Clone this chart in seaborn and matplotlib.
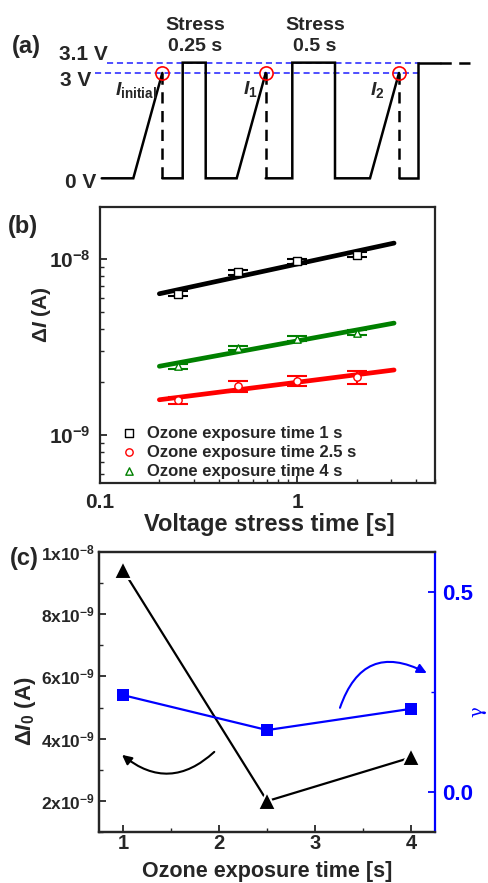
import numpy as np
import matplotlib
matplotlib.use("Agg")
import matplotlib.pyplot as plt
import seaborn as sns
import pandas as pd
from matplotlib.ticker import FixedLocator, FixedFormatter, MultipleLocator, LogLocator, NullFormatter

# ---------------- data ----------------
# panel (a): schematic waveform (schematic time axis, voltage levels)
wave_solid_t = [[101.7, 133.3, 162.3],
                [162.3, 182.7, 182.7, 205.7, 205.7, 236.7, 265.7],
                [265.7, 292.3, 292.3, 335.0, 335.0, 370.0, 399.0],
                [399.0, 418.3, 418.3, 440.0]]
wave_solid_v = [[0, 0, 3.0],
                [0, 0, 3.1, 3.1, 0, 0, 3.0],
                [0, 0, 3.1, 3.1, 0, 0, 3.0],
                [0, 0, 3.1, 3.1]]
read_t = [162.3, 265.7, 399.0]
read_v = 3.0
stress_v = 3.1
tail_t = [440.0, 470.0]
ref3_t = [95.0, 420.0]
ref31_t = [107.0, 420.0]
read_labels = [r"$\mathit{I}_{\mathrm{initial}}$", r"$\mathit{I}_{\mathrm{1}}$", r"$\mathit{I}_{\mathrm{2}}$"]
stress_labels = ["Stress\n0.25 s", "Stress\n0.5 s"]

# panel (b)
stress_time = [0.25, 0.5, 1, 2]
dI_1s = [6.33e-9, 8.4e-9, 9.66e-9, 1.057e-8]
dI_1s_err = [0.20e-9, 0.27e-9, 0.33e-9, 0.35e-9]
dI_2p5s = [1.57e-9, 1.88e-9, 2.02e-9, 2.13e-9]
dI_2p5s_err = [0.07e-9, 0.13e-9, 0.14e-9, 0.18e-9]
dI_4s = [2.45e-9, 3.11e-9, 3.51e-9, 3.79e-9]
dI_4s_err = [0.08e-9, 0.08e-9, 0.12e-9, 0.13e-9]
series_labels = ["Ozone exposure time 1 s", "Ozone exposure time 2.5 s", "Ozone exposure time 4 s"]
fit_range = [0.2, 3.1]

# panel (c)
ozone_time = [1, 2.5, 4]
dI0 = [9.4e-9, 2.0e-9, 3.4e-9]
gamma = [0.242, 0.155, 0.208]
dI0_ticks = [2e-9, 4e-9, 6e-9, 8e-9, 1e-8]
dI0_ticklabels = [r"$\mathrm{2x10^{-9}}$", r"$\mathrm{4x10^{-9}}$", r"$\mathrm{6x10^{-9}}$",
                  r"$\mathrm{8x10^{-9}}$", r"$\mathrm{1x10^{-8}}$"]

# ---------------- style ----------------
sns.set_style("ticks")
plt.rcParams["font.family"] = ["Liberation Sans", "DejaVu Sans"]
plt.rcParams["font.weight"] = "bold"
plt.rcParams["axes.labelweight"] = "bold"
plt.rcParams["mathtext.fontset"] = "custom"
plt.rcParams["mathtext.rm"] = "Liberation Sans:bold"
plt.rcParams["mathtext.bf"] = "Liberation Sans:bold"
plt.rcParams["mathtext.it"] = "Liberation Sans:italic:bold"
plt.rcParams["mathtext.default"] = "rm"
plt.rcParams["axes.linewidth"] = 1.6
plt.rcParams["xtick.direction"] = "in"
plt.rcParams["ytick.direction"] = "in"

W, H = 489, 883
fig = plt.figure(figsize=(W / 100, H / 100), dpi=100)
fig.patch.set_facecolor("white")


def fx(px):
    return px / W


def fy(py):
    return 1 - py / H


# ---------------- panel (a) ----------------
axa = fig.add_axes([0, fy(200), 1, 200 / H])
axa.set_xlim(0, W)


def fwd(v):
    v = np.asarray(v, dtype=float)
    return np.where(v <= 3.0, v, 3.0 + (v - 3.0) * 2.94)


def inv(s):
    s = np.asarray(s, dtype=float)
    return np.where(s <= 3.0, s, 3.0 + (s - 3.0) / 2.94)


axa.set_yscale("function", functions=(fwd, inv))
axa.set_ylim(-0.618, 3.707)
axa.axis("off")

axa.plot(ref31_t, [stress_v, stress_v], color="#1f1fff", lw=1.1, ls=(0, (4, 2.5)))
axa.plot(ref3_t, [read_v, read_v], color="#1f1fff", lw=1.1, ls=(0, (4, 2.5)))
for tt, vv in zip(wave_solid_t, wave_solid_v):
    axa.plot(tt, vv, color="black", lw=1.8, solid_joinstyle="miter")
for t in read_t:
    axa.plot([t, t], [read_v, 0], color="black", lw=1.8, ls=(0, (4.5, 3)))
axa.plot(tail_t, [stress_v, stress_v], color="black", lw=1.8, ls=(0, (4.5, 3)))
axa.plot(read_t, [read_v] * 3, ls="none", marker="o", ms=9.5, mfc="none", mec="red", mew=1.2)

fig.text(fx(12), fy(46), "(a)", fontsize=17, va="center", ha="left")
fig.text(fx(108), fy(55), "3.1 V", fontsize=15, va="center", ha="right")
fig.text(fx(91), fy(80), "3 V", fontsize=15, va="center", ha="right")
fig.text(fx(96), fy(182), "0 V", fontsize=15, va="center", ha="right")
for xc, lab in zip([195, 315], stress_labels):
    fig.text(fx(xc), fy(36), lab, fontsize=14, va="center", ha="center", linespacing=1.35)
for xl, yl, lab in zip([115, 243, 370], [90, 89, 90], read_labels):
    fig.text(fx(xl), fy(yl), lab, fontsize=14, va="center", ha="left")

# ---------------- panel (b) ----------------
axb = fig.add_axes([fx(100), fy(483), (435 - 100) / W, (483 - 207) / H])
axb.set_xscale("log")
axb.set_yscale("log")
series = [(dI_1s, dI_1s_err, "black", "s"),
          (dI_2p5s, dI_2p5s_err, "red", "o"),
          (dI_4s, dI_4s_err, "#008000", "^")]
xfit = np.array(fit_range)
for (vals, errs, col, mk), lab in zip(series, series_labels):
    p = np.polyfit(np.log10(stress_time), np.log10(vals), 1)
    yfit = 10 ** np.polyval(p, np.log10(xfit))
    sns.lineplot(x=xfit, y=yfit, ax=axb, color=col, lw=3.4, zorder=1, legend=False)
    axb.errorbar(stress_time, vals, yerr=errs, fmt="none", ecolor=col, elinewidth=1.5,
                 capsize=7, capthick=1.5, zorder=2)
    df = pd.DataFrame({"t": stress_time, "v": vals})
    sns.scatterplot(data=df, x="t", y="v", ax=axb, marker=mk, s=28, facecolor="white",
                    edgecolor=col, linewidth=1.0, zorder=3, label=lab)
axb.set_xlim(0.1, 5)
axb.set_ylim(5.3e-10, 1.97e-8)
axb.xaxis.set_major_locator(FixedLocator([0.1, 1]))
axb.xaxis.set_major_formatter(FixedFormatter(["0.1", "1"]))
axb.xaxis.set_minor_locator(LogLocator(base=10, subs=np.arange(2, 10)))
axb.xaxis.set_minor_formatter(NullFormatter())
axb.yaxis.set_major_locator(FixedLocator([1e-9, 1e-8]))
axb.yaxis.set_major_formatter(FixedFormatter([r"$\mathrm{10^{-9}}$", r"$\mathrm{10^{-8}}$"]))
axb.yaxis.set_minor_locator(LogLocator(base=10, subs=np.arange(2, 10)))
axb.yaxis.set_minor_formatter(NullFormatter())
axb.tick_params(axis="both", which="major", length=5, width=1.3, labelsize=15)
axb.tick_params(axis="both", which="minor", length=3, width=1.0)
axb.tick_params(axis="y", which="major", labelsize=15, pad=7)
axb.tick_params(axis="x", which="major", pad=7)
axb.set_xlabel("Voltage stress time [s]", fontsize=17)
axb.set_ylabel("Δ$\\mathit{I}$ (A)", fontsize=15)
axb.xaxis.set_label_coords(0.507, -0.11)
axb.yaxis.set_label_coords(-0.14, 0.61)
leg = axb.legend(loc="lower left", bbox_to_anchor=(0.063, 0.015), frameon=False, fontsize=12,
                 handlelength=1.0, handletextpad=0.55, labelspacing=0.25, borderpad=0,
                 borderaxespad=0)
fig.text(fx(8), fy(227), "(b)", fontsize=17, va="center", ha="left")

# ---------------- panel (c) ----------------
axc = fig.add_axes([fx(99.3), fy(832.3), (435 - 99.3) / W, (832.3 - 551.7) / H])
axc2 = axc.twinx()
sns.lineplot(x=ozone_time, y=dI0, ax=axc, color="black", lw=1.6, marker="^", markersize=13.5,
             markeredgecolor="white", markeredgewidth=1.5, legend=False)
sns.lineplot(x=ozone_time, y=gamma, ax=axc2, color="blue", lw=1.6, marker="s", markersize=9,
             markeredgecolor="blue", markeredgewidth=0, legend=False)
axc.set_xlim(0.75, 4.25)
axc.set_ylim(1e-9, 1e-8)
axc2.set_ylim(-0.1, 0.6)
axc.xaxis.set_major_locator(FixedLocator([1, 2, 3, 4]))
axc.xaxis.set_minor_locator(MultipleLocator(0.5))
axc.yaxis.set_major_locator(FixedLocator(dI0_ticks))
axc.yaxis.set_major_formatter(FixedFormatter(dI0_ticklabels))
axc.yaxis.set_minor_locator(MultipleLocator(1e-9))
axc.tick_params(axis="both", which="major", length=5, width=1.3)
axc.tick_params(axis="both", which="minor", length=3, width=1.0)
axc.tick_params(axis="x", which="major", labelsize=14.5, pad=1.5)
axc.tick_params(axis="y", which="major", labelsize=12.5, pad=3)
axc2.yaxis.set_major_locator(FixedLocator([0.0, 0.5]))
axc2.yaxis.set_major_formatter(FixedFormatter(["0.0", "0.5"]))
axc2.yaxis.set_minor_locator(MultipleLocator(0.25))
axc2.tick_params(axis="y", which="major", length=5, width=1.3, colors="blue", labelsize=16, pad=5)
axc2.tick_params(axis="y", which="minor", length=3, width=1.0, colors="blue")
axc2.spines["right"].set_color("blue")
axc2.spines["right"].set_linewidth(1.6)
axc.spines["right"].set_visible(False)
axc.set_xlabel("Ozone exposure time [s]", fontsize=15.5)
axc.xaxis.label.set_va("bottom")
axc.set_ylabel("Δ$\\mathit{I}_\\mathrm{0}$ (A)", fontsize=16)
axc.xaxis.set_label_coords(0.5, -0.176)
axc.yaxis.set_label_coords(-0.183, 0.43)
axc2.set_ylabel("γ", color="blue", fontsize=13, fontweight="normal", family="DejaVu Serif")
axc2.yaxis.set_label_coords(1.1, 0.43)
axc.annotate("", xy=(0.965, 3.54e-9), xytext=(1.97, 3.64e-9),
             arrowprops=dict(arrowstyle="-|>", color="black", lw=1.5,
                             connectionstyle="arc3,rad=-0.45", mutation_scale=14))
axc2.annotate("", xy=(4.19, 0.294), xytext=(3.25, 0.204),
              arrowprops=dict(arrowstyle="-|>", color="blue", lw=1.5,
                              connectionstyle="arc3,rad=-0.6", mutation_scale=14))
fig.text(fx(10), fy(558), "(c)", fontsize=17, va="center", ha="left")

fig.savefig("out.png", dpi=100, facecolor="white")
